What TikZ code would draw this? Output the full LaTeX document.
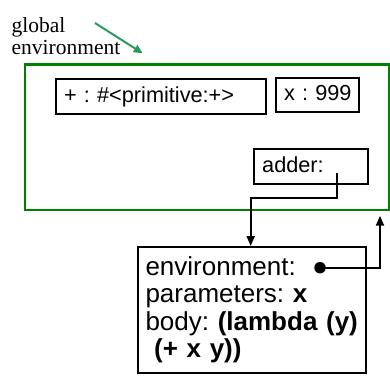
\documentclass[tikz,border=0pt]{standalone}
\usepackage{fontspec}
\setmainfont{Liberation Sans}
\newfontfamily\serifface{Liberation Serif}
\usetikzlibrary{arrows.meta}
\definecolor{envgreen}{RGB}{0,128,0}
\definecolor{ptrgreen}{RGB}{40,155,95}
\begin{document}
\frenchspacing
\begin{tikzpicture}[x=1pt,y=-1pt,
  envframe/.style={draw=envgreen, line width=2.5pt, rectangle, inner sep=0pt, anchor=north west},
  bindbox/.style={draw=black, line width=2pt, rectangle, anchor=north west, inner ysep=0pt, inner xsep=8.5pt, align=left,
    font=\fontsize{21.7}{26}\selectfont\frenchspacing, text height=16pt, text depth=4pt},
  procbox/.style={draw=black, line width=2pt, rectangle, anchor=north west, inner ysep=0pt, inner xsep=7.5pt, align=left,
    font=\fontsize{26}{27.5}\selectfont\frenchspacing},
  ptr/.style={draw=black, line width=2pt, -{Triangle[length=10pt,width=8pt]}},
  gptr/.style={draw=ptrgreen, line width=2pt, -{Triangle[length=9pt,width=8pt]}},
  dotmark/.style={circle, fill=black, inner sep=0pt, minimum size=11.5pt}]
\useasboundingbox (0,0) rectangle (390,383);
% label
\node[anchor=base west, align=left, inner sep=0pt, text width=130pt,
      font=\serifface\fontsize{21.5}{21.5}\selectfont] (glabel) at (11.5,32.5) {global\\environment};
\coordinate (gs) at (95,23);
\coordinate (ge) at (142.7,53.3);
\draw[gptr] (gs) -- (ge);
% global environment frame
\node[envframe, minimum width=364.5pt, minimum height=145.5pt] (genv) at (23.5,63) {};
% bindings
\node[bindbox, text width=193pt, minimum height=35pt] (prim) at (54.5,78.3) {+ : \#<primitive:+>};
\node[bindbox, text width=66.5pt, minimum height=34pt] (xbind) at (274.5,76.5) {x~:~999};
\node[bindbox, text width=96.8pt, minimum height=34.7pt] (adder) at (252.7,148.3) {adder:};
% procedure object
\node[procbox, text width=213pt, minimum height=126pt] (proc) at (137,246)
  {environment:\\parameters: \textbf{x}\\body:~\textbf{(lambda~(y)}\\\ \textbf{(+ x y))}};
\node[dotmark] (dot) at (320,267.7) {};
% pointers
\coordinate (aptr) at (336.7,173.3);
\coordinate (bend) at (250.7,198.3);
\draw[ptr] (aptr) |- (bend) -- (bend |- proc.north);
\coordinate (etip) at (380,215.7);
\draw[ptr] (dot.center) -| (etip);
\end{tikzpicture}
\end{document}
